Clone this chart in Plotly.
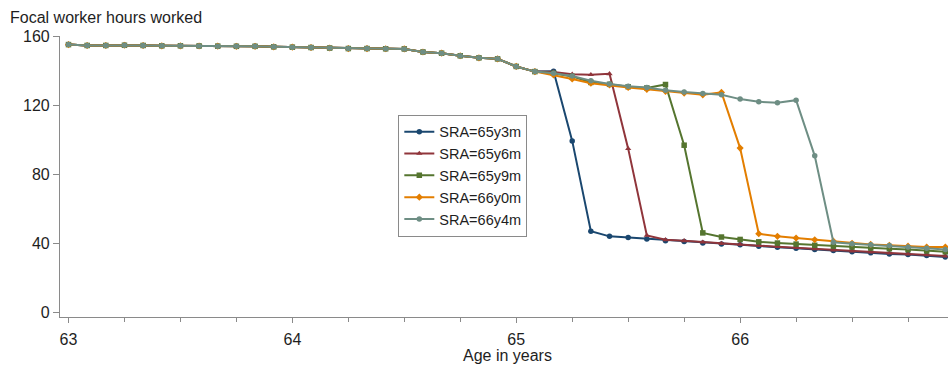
import plotly.graph_objects as go

# Age in years, monthly from 63y0m
ages = [63 + m / 12 for m in range(48)]

base_early = [155.5, 155.0, 155.0, 155.1, 155.0, 154.8, 154.8, 154.7, 154.6, 154.5,
              154.5, 154.2, 154.0, 153.8, 153.5, 153.2, 153.2, 153.1, 153.0, 151.2,
              150.5, 149.0, 147.8, 147.2, 142.8, 139.8]

sra_65y3m = base_early + [140.0, 99.5, 47.0, 44.0, 43.3, 42.5, 41.5, 41.0, 40.2, 39.6,
                          39.1, 38.3, 37.7, 37.1, 36.4, 35.7, 35.0, 34.4, 33.8, 33.4,
                          32.8, 32.0]
sra_65y6m = base_early + [139.5, 138.3, 138.0, 138.5, 95.0, 44.5, 42.0, 41.4, 40.6, 39.8,
                          39.3, 38.6, 38.0, 37.4, 36.7, 36.0, 35.4, 34.8, 34.2, 33.7,
                          33.2, 32.5]
sra_65y9m = base_early + [138.8, 137.0, 133.5, 132.4, 131.0, 130.3, 132.3, 97.0, 46.0, 43.6,
                          42.2, 40.8, 40.1, 39.5, 38.8, 38.3, 37.8, 37.2, 36.8, 36.3,
                          35.5, 35.0]
sra_66y0m = base_early + [137.8, 135.5, 133.0, 132.0, 130.6, 129.5, 128.3, 127.3, 126.3, 127.7,
                          95.3, 45.5, 44.0, 43.0, 42.0, 41.2, 40.0, 39.3, 38.8, 38.3,
                          37.8, 37.8]
sra_66y4m = base_early + [138.8, 137.2, 134.5, 132.6, 131.3, 130.5, 129.0, 128.0, 127.0, 126.3,
                          123.8, 122.2, 121.7, 123.2, 90.8, 40.6, 39.7, 39.1, 38.7, 37.8,
                          37.1, 36.3]

series_names = ["SRA=65y3m", "SRA=65y6m", "SRA=65y9m", "SRA=66y0m", "SRA=66y4m"]
series_values = [sra_65y3m, sra_65y6m, sra_65y9m, sra_66y0m, sra_66y4m]
colors = ["#1a476f", "#90353b", "#55752f", "#e37e00", "#6e8e84"]
symbols = ["circle", "triangle-up", "square", "diamond", "circle"]

y_ticks = [0, 40, 80, 120, 160]
x_ticks = [63, 64, 65, 66]

FONT = "Arial, Liberation Sans, sans-serif"

fig = go.Figure()
for name, vals, c, s in zip(series_names, series_values, colors, symbols):
    fig.add_trace(go.Scatter(
        x=ages, y=vals, name=name, mode="lines+markers",
        line=dict(color=c, width=2),
        marker=dict(color=c, symbol=s, size=5.5),
    ))

W, H = 948, 369
L, R, T, B = 59.5, 0, 36.4, 52

fig.update_layout(
    width=W, height=H,
    margin=dict(l=L, r=R, t=T, b=B, pad=0),
    paper_bgcolor="white", plot_bgcolor="white",
    font=dict(family=FONT, size=15, color="#1e1e1e"),
    title=dict(text="Focal worker hours worked", x=10 / W, xanchor="left",
               y=1 - 17 / H, yanchor="middle", xref="container", yref="container",
               font=dict(size=16, color="#1e1e1e")),
    legend=dict(x=(398 - L) / (W - L), y=(317 - 115) / (317 - T),
                xanchor="left", yanchor="top",
                bgcolor="white", bordercolor="#8a8a8a", borderwidth=1,
                font=dict(size=14.5), tracegroupgap=0, itemwidth=30),
    showlegend=True,
)

fig.update_xaxes(
    range=[63 - 8.5 / 224, 63 + (W - L - 8.5) / 224],
    tickvals=x_ticks, ticktext=[str(t) for t in x_ticks],
    ticks="outside", ticklen=5, tickcolor="#8a8a8a", tickwidth=1,
    showline=True, linecolor="#8a8a8a", linewidth=1.2,
    showgrid=False, zeroline=False, ticklabelstandoff=3,
    minor=dict(dtick=0.25, tick0=63, ticks="outside", ticklen=4, tickcolor="#8a8a8a", showgrid=False),
    tickfont=dict(size=16),
)
fig.update_yaxes(
    range=[-2.9, 160.5],
    tickvals=y_ticks, ticktext=[str(t) for t in y_ticks],
    ticks="outside", ticklen=6, tickcolor="#8a8a8a", tickwidth=1,
    showline=True, linecolor="#8a8a8a", linewidth=1.2,
    showgrid=False, zeroline=False,
    tickfont=dict(size=16),
)

fig.add_annotation(text="Age in years", xref="paper", yref="paper",
                   x=(507 - L) / (W - L), y=-(355 - 317) / (317 - T),
                   xanchor="center", yanchor="middle", showarrow=False,
                   font=dict(size=16, color="#1e1e1e"))

fig.write_html("out.html", config={"displayModeBar": False},
               post_script="document.body.style.margin='0';document.body.style.padding='0';")
